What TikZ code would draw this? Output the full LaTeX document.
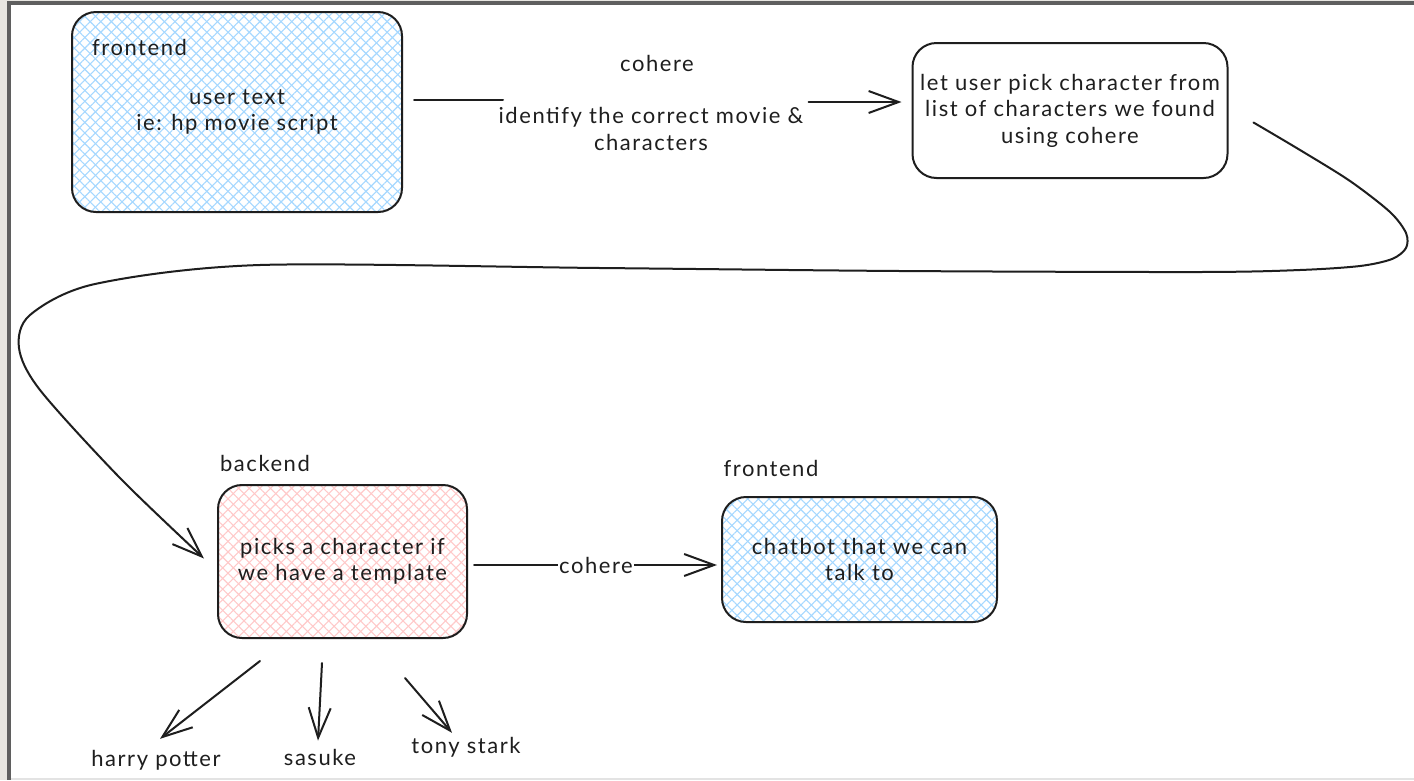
\documentclass[tikz,border=0pt]{standalone}
\usepackage{fontspec}
\setmainfont{Lato}[LetterSpace=7]
\usetikzlibrary{arrows.meta,patterns.meta,calc}
\definecolor{ink}{HTML}{1E1E1E}
\definecolor{hblue}{HTML}{A5D8FF}
\definecolor{hpink}{HTML}{FFC9C9}
\definecolor{outerbg}{HTML}{E8E6E1}
\definecolor{framegray}{HTML}{5F5F5F}
\definecolor{bline}{HTML}{E3E3E3}
\begin{document}
\begin{tikzpicture}[x=1pt,y=-1pt,
  txt/.style={font=\fontsize{22}{26.5}\selectfont, text=ink, align=center, inner sep=0pt},
  box/.style={txt, draw=ink, line width=2pt, rounded corners=24pt},
  hatch/.style={preaction={pattern={Lines[angle=45,distance=7.5pt,line width=1.1pt]},pattern color=#1},
                preaction={pattern={Lines[angle=-45,distance=7.5pt,line width=1.1pt]},pattern color=#1}},
  conn/.style={draw=ink,line width=2pt,line cap=round,line join=round},
  arr/.style={conn,-{Straight Barb[length=30pt,width=22pt]}}
]
% page frame
\fill[outerbg] (0,0) rectangle (1414,780);
\fill[framegray] (7,1) rectangle (1414,780);
\fill[white] (11,5) rectangle (1414,778);
\fill[bline] (11,778) rectangle (1414,780);
\useasboundingbox (0,0) rectangle (1414,780);

% boxes
\node[box,hatch=hblue,minimum width=330pt,minimum height=200pt] (b1) at (237,112) {user text\\ie: hp movie script};
\node[txt,anchor=west] (l1) at (92,47) {frontend};
\node[box,minimum width=315pt,minimum height=135pt] (b2) at (1070,110.5) {let user pick character from\\list of characters we found\\using cohere};
\node[box,hatch=hpink,minimum width=249pt,minimum height=153pt] (b3) at (342.5,561.5) {picks a character if\\we have a template};
\node[txt] (l3) at (265,463) {backend};
\node[box,hatch=hblue,minimum width=275pt,minimum height=125pt] (b4) at (859.5,559.5) {chatbot that we can\\talk to};
\node[txt] (l4) at (771,468) {frontend};

% top connector
\node[txt] (c1) at (657,63) {cohere};
\node[txt] (m1) at (651,129) {identify the correct movie \&\\characters};
\draw[conn] ($(b1.east)+(11,-12)$) -- ++(89,0);
\draw[arr] ($(b2.west)+(-103,-8.5)$) -- ($(b2.west)+(-10,-8.5)$);

% long curve
\coordinate (cs) at ($(b2.east)+(25,12)$);
\coordinate (ce) at ($(b3.west)+(-13,-3)$);
\draw[arr] plot[smooth] coordinates {(cs) (1300,150) (1350,181) (1390,212) (1406,233) (1406,248) (1392,259) (1360,266) (1300,270) (1200,272) (900,271) (600,268) (260,265) (95,284) (30,315) (19,348) (40,390) (120,478) (ce)};

% cohere connector
\draw[arr] ($(b3.east)+(6,3.5)$) -- ($(b4.west)+(-4,5.5)$);
\node[txt,fill=white,inner xsep=1pt] (c2) at (596,565) {cohere};

% character arrows
\node[txt] (hp) at (156,760) {harry potter};
\node[txt] (sa) at (320,757) {sasuke};
\node[txt] (ts) at (466,747) {tony stark};
\coordinate (h0) at ($(b3.south)+(-82.5,22)$);
\coordinate (h1) at ($(hp.north)+(4,-11)$);
\coordinate (s0) at ($(b3.south)+(-20.5,24)$);
\coordinate (s1) at ($(sa.north)+(-2,-8)$);
\coordinate (t0) at ($(b3.south)+(62.5,39)$);
\coordinate (t1) at ($(ts.north)+(-14,-4)$);
\draw[arr] (h0) -- (h1);
\draw[arr] (s0) -- (s1);
\draw[arr] (t0) -- (t1);
\end{tikzpicture}
\end{document}
